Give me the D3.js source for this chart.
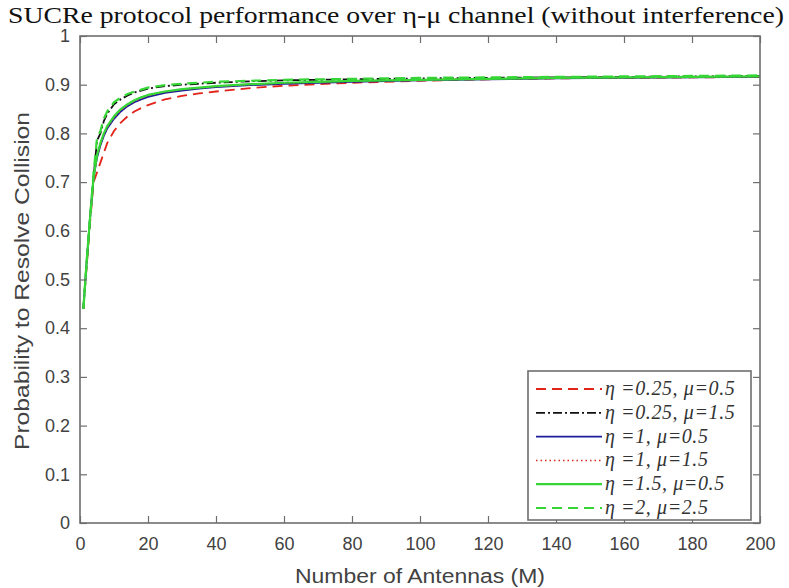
<!DOCTYPE html>
<html>
<head>
<meta charset="utf-8">
<script src="https://cdn.jsdelivr.net/npm/d3@7/dist/d3.min.js"></script>
<style>
  html, body { margin: 0; padding: 0; background: #fff; }
  svg { display: block; }
</style>
</head>
<body>
<svg id="chart" width="789" height="588"></svg>
<script>
// Number of antennas at which the success probability was evaluated
const antennas = [1, 2, 3, 4, 5, 6, 7, 8, 10, 12, 14, 16, 18, 20, 25, 30, 35, 40, 50, 60, 70, 80, 100, 120, 140, 160, 180, 200];

// Probability to resolve collision, one array per (eta, mu) pair
const eta025mu05 = [0.44, 0.53, 0.62, 0.70, 0.72, 0.74, 0.76, 0.78, 0.805, 0.822, 0.835, 0.845, 0.852, 0.858, 0.870, 0.877, 0.882, 0.886, 0.893, 0.898, 0.901, 0.904, 0.908, 0.911, 0.913, 0.914, 0.915, 0.916];
const eta025mu15 = [0.44, 0.54, 0.63, 0.71, 0.785, 0.800, 0.825, 0.840, 0.860, 0.870, 0.878, 0.884, 0.888, 0.892, 0.897, 0.900, 0.902, 0.904, 0.907, 0.909, 0.910, 0.911, 0.913, 0.914, 0.915, 0.916, 0.917, 0.918];
const eta1mu05    = [0.44, 0.54, 0.63, 0.71, 0.750, 0.775, 0.795, 0.810, 0.830, 0.845, 0.856, 0.864, 0.870, 0.875, 0.883, 0.888, 0.892, 0.895, 0.899, 0.902, 0.904, 0.906, 0.909, 0.911, 0.913, 0.914, 0.915, 0.916];
const eta1mu15    = [0.44, 0.54, 0.63, 0.71, 0.752, 0.777, 0.797, 0.812, 0.832, 0.847, 0.858, 0.866, 0.872, 0.877, 0.885, 0.890, 0.893, 0.896, 0.900, 0.903, 0.905, 0.907, 0.910, 0.912, 0.913, 0.914, 0.915, 0.916];
const eta15mu05   = [0.44, 0.54, 0.63, 0.71, 0.755, 0.780, 0.800, 0.815, 0.835, 0.850, 0.860, 0.868, 0.874, 0.879, 0.886, 0.891, 0.894, 0.897, 0.901, 0.904, 0.906, 0.908, 0.910, 0.912, 0.914, 0.915, 0.916, 0.917];
const eta2mu25    = [0.44, 0.54, 0.63, 0.72, 0.790, 0.805, 0.830, 0.845, 0.864, 0.874, 0.881, 0.886, 0.890, 0.894, 0.899, 0.902, 0.904, 0.906, 0.908, 0.910, 0.911, 0.912, 0.914, 0.915, 0.916, 0.917, 0.918, 0.919];

const legendLabels = ["η =0.25, μ=0.5", "η =0.25, μ=1.5", "η =1, μ=0.5", "η =1, μ=1.5", "η =1.5, μ=0.5", "η =2, μ=2.5"];

const xTicks = [0, 20, 40, 60, 80, 100, 120, 140, 160, 180, 200];
const yTicks = [0, 0.1, 0.2, 0.3, 0.4, 0.5, 0.6, 0.7, 0.8, 0.9, 1];
const yTickLabels = ["0", "0.1", "0.2", "0.3", "0.4", "0.5", "0.6", "0.7", "0.8", "0.9", "1"];

const seriesValues = [eta025mu05, eta025mu15, eta1mu05, eta1mu15, eta15mu05, eta2mu25];
const seriesStyle = [
  { color: "#e2231a", dash: "10,6", width: 1.8 },
  { color: "#111111", dash: "9,3,2,3", width: 1.8 },
  { color: "#1c1c9c", dash: null, width: 1.8 },
  { color: "#d8281c", dash: "1.5,3", width: 1.5 },
  { color: "#35d635", dash: null, width: 2.2 },
  { color: "#35d635", dash: "10,6", width: 2.2 }
];

const svg = d3.select("#chart");
const plot = { left: 80, right: 760, top: 36, bottom: 523 };

const x = d3.scaleLinear().domain([0, 200]).range([plot.left, plot.right]);
const y = d3.scaleLinear().domain([0, 1]).range([plot.bottom, plot.top]);

const frameColor = "#6e6e6e";
const tickTextColor = "#424242";

// Curves
const line = d3.line().x(d => x(d[0])).y(d => y(d[1]));
seriesValues.forEach((vals, i) => {
  const s = seriesStyle[i];
  svg.append("path")
    .datum(antennas.map((m, k) => [m, vals[k]]))
    .attr("d", line)
    .attr("fill", "none")
    .attr("stroke", s.color)
    .attr("stroke-width", s.width)
    .attr("stroke-dasharray", s.dash)
    .attr("stroke-linejoin", "round");
});

// Axes: inward ticks on all four sides
const tickLen = 7;
const axisBottom = d3.axisBottom(x).tickValues(xTicks).tickSizeInner(-tickLen).tickSizeOuter(0).tickPadding(14);
const axisTop = d3.axisTop(x).tickValues(xTicks).tickSizeInner(-tickLen).tickSizeOuter(0).tickFormat("");
const axisLeft = d3.axisLeft(y).tickValues(yTicks).tickSizeInner(-tickLen).tickSizeOuter(0).tickPadding(10)
  .tickFormat((d, i) => yTickLabels[i]);
const axisRight = d3.axisRight(y).tickValues(yTicks).tickSizeInner(-tickLen).tickSizeOuter(0).tickFormat("");

function styleAxis(g) {
  g.select(".domain").remove();
  g.selectAll(".tick line").attr("stroke", frameColor).attr("stroke-width", 1.2);
  g.selectAll(".tick text")
    .attr("fill", tickTextColor)
    .attr("font-family", "Liberation Sans, Arial, sans-serif")
    .attr("font-size", 18);
}

svg.append("g").attr("transform", `translate(0,${plot.bottom})`).call(axisBottom).call(styleAxis);
svg.append("g").attr("transform", `translate(0,${plot.top})`).call(axisTop).call(styleAxis);
svg.append("g").attr("transform", `translate(${plot.left},0)`).call(axisLeft).call(styleAxis);
svg.append("g").attr("transform", `translate(${plot.right},0)`).call(axisRight).call(styleAxis);

// Box
svg.append("rect")
  .attr("x", plot.left).attr("y", plot.top)
  .attr("width", plot.right - plot.left).attr("height", plot.bottom - plot.top)
  .attr("fill", "none").attr("stroke", frameColor).attr("stroke-width", 1.6);

// Title
svg.append("text")
  .attr("x", 396).attr("y", 23)
  .attr("text-anchor", "middle")
  .attr("font-family", "Liberation Serif, Times New Roman, serif")
  .attr("font-size", 23)
  .attr("fill", "#111")
  .attr("textLength", 776)
  .attr("lengthAdjust", "spacingAndGlyphs")
  .text("SUCRe protocol performance over η-μ channel (without interference)");

// Axis labels
svg.append("text")
  .attr("x", 420).attr("y", 583)
  .attr("text-anchor", "middle")
  .attr("font-family", "Liberation Sans, Arial, sans-serif")
  .attr("font-size", 20)
  .attr("fill", tickTextColor)
  .attr("textLength", 250)
  .attr("lengthAdjust", "spacingAndGlyphs")
  .text("Number of Antennas (M)");

svg.append("text")
  .attr("transform", "translate(29,281) rotate(-90)")
  .attr("text-anchor", "middle")
  .attr("font-family", "Liberation Sans, Arial, sans-serif")
  .attr("font-size", 20)
  .attr("fill", tickTextColor)
  .attr("textLength", 338)
  .attr("lengthAdjust", "spacingAndGlyphs")
  .text("Probability to Resolve Collision");

// Legend
const legend = { x: 528, y: 371, w: 223, h: 149 };
svg.append("rect")
  .attr("x", legend.x).attr("y", legend.y)
  .attr("width", legend.w).attr("height", legend.h)
  .attr("fill", "#fff").attr("stroke", frameColor).attr("stroke-width", 1.6);

const rowY = d3.scaleLinear().domain([0, 5]).range([legend.y + 18, legend.y + 137]);
legendLabels.forEach((label, i) => {
  const s = seriesStyle[i];
  const cy = rowY(i);
  svg.append("line")
    .attr("x1", legend.x + 8).attr("x2", legend.x + 74)
    .attr("y1", cy).attr("y2", cy)
    .attr("stroke", s.color)
    .attr("stroke-width", s.width)
    .attr("stroke-dasharray", s.dash);
  svg.append("text")
    .attr("x", legend.x + 77).attr("y", cy + 6)
    .attr("font-family", "Liberation Serif, Times New Roman, serif")
    .attr("font-style", "italic")
    .attr("font-size", 20)
    .attr("letter-spacing", 0.6)
    .attr("fill", "#333")
    .text(label);
});
</script>
</body>
</html>
